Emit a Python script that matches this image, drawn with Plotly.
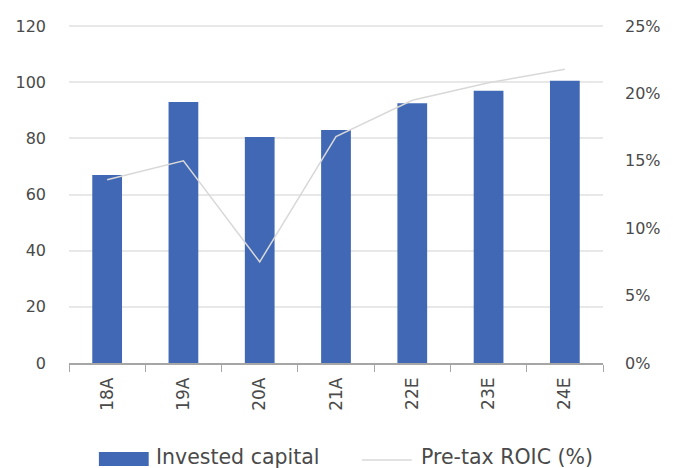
import plotly.graph_objects as go

# Data
periods = ["18A", "19A", "20A", "21A", "22E", "23E", "24E"]
invested_capital = [67, 93, 80.5, 83, 92.5, 97, 100.5]
pretax_roic = [0.136, 0.150, 0.075, 0.168, 0.195, 0.208, 0.218]
left_ticks = [0, 20, 40, 60, 80, 100, 120]
right_ticks = [0, 0.05, 0.10, 0.15, 0.20, 0.25]

BAR_COLOR = "#4068B5"
LINE_COLOR = "#d8d8d8"
TEXT_COLOR = "#4a4a4a"
GRID_COLOR = "#e8e8e8"
AXIS_COLOR = "#a6a6a6"
FONT = "DejaVu Sans, sans-serif"

W, H = 673, 468
ML, MR, MT, MB = 69, 68, 25, 105
PW, PH = W - ML - MR, H - MT - MB

# small headroom so the top gridline (120 / 25%) is drawn
Y_MAX = 120.4
Y2_MAX = 0.25 * Y_MAX / 120


def px_x(px):
    return (px - ML) / PW


def px_y(py):
    return (H - MB - py) / PH


fig = go.Figure()

fig.add_trace(go.Bar(
    x=periods, y=invested_capital, name="Invested capital",
    marker=dict(color=BAR_COLOR, line=dict(width=0)),
    showlegend=False,
))

fig.add_trace(go.Scatter(
    x=periods, y=pretax_roic, name="Pre-tax ROIC (%)", yaxis="y2",
    mode="lines", line=dict(color=LINE_COLOR, width=1.5),
    showlegend=False,
))

# Legend drawn as shapes + text below the axis
fig.add_shape(type="rect", xref="paper", yref="paper",
              x0=px_x(99), x1=px_x(149), y0=px_y(466), y1=px_y(452),
              fillcolor=BAR_COLOR, line=dict(width=0))
fig.add_annotation(text="Invested capital", xref="paper", yref="paper",
                   x=px_x(154), y=px_y(457), xanchor="left", yanchor="middle",
                   showarrow=False, font=dict(size=20.5, color=TEXT_COLOR, family=FONT))
fig.add_shape(type="line", xref="paper", yref="paper",
              x0=px_x(363), x1=px_x(413), y0=px_y(460), y1=px_y(460),
              line=dict(color=LINE_COLOR, width=1.5))
fig.add_annotation(text="Pre-tax ROIC (%)", xref="paper", yref="paper",
                   x=px_x(420), y=px_y(457), xanchor="left", yanchor="middle",
                   showarrow=False, font=dict(size=20.5, color=TEXT_COLOR, family=FONT))

fig.update_layout(
    width=W, height=H,
    margin=dict(l=ML, r=MR, t=MT, b=MB),
    paper_bgcolor="white", plot_bgcolor="white",
    bargap=0.61,
    font=dict(family=FONT, color=TEXT_COLOR, size=16),
    xaxis=dict(
        type="category", tickson="boundaries", ticks="outside", ticklen=7,
        tickcolor=AXIS_COLOR, showline=True, linecolor=AXIS_COLOR, linewidth=1.5,
        tickangle=-90, tickfont=dict(size=17, color=TEXT_COLOR),
        ticklabelstandoff=6, showgrid=False,
    ),
    yaxis=dict(
        range=[0, Y_MAX], tickvals=left_ticks, showgrid=True, gridcolor=GRID_COLOR,
        gridwidth=1.5, zeroline=False, ticks="", ticklabelstandoff=22,
        tickfont=dict(size=16, color=TEXT_COLOR),
    ),
    yaxis2=dict(
        range=[0, Y2_MAX], tickvals=right_ticks, tickformat=".0%", overlaying="y",
        side="right", showgrid=False, zeroline=False, ticks="",
        ticklabelstandoff=21, tickfont=dict(size=16, color=TEXT_COLOR),
    ),
)

fig.write_html("out.html")
